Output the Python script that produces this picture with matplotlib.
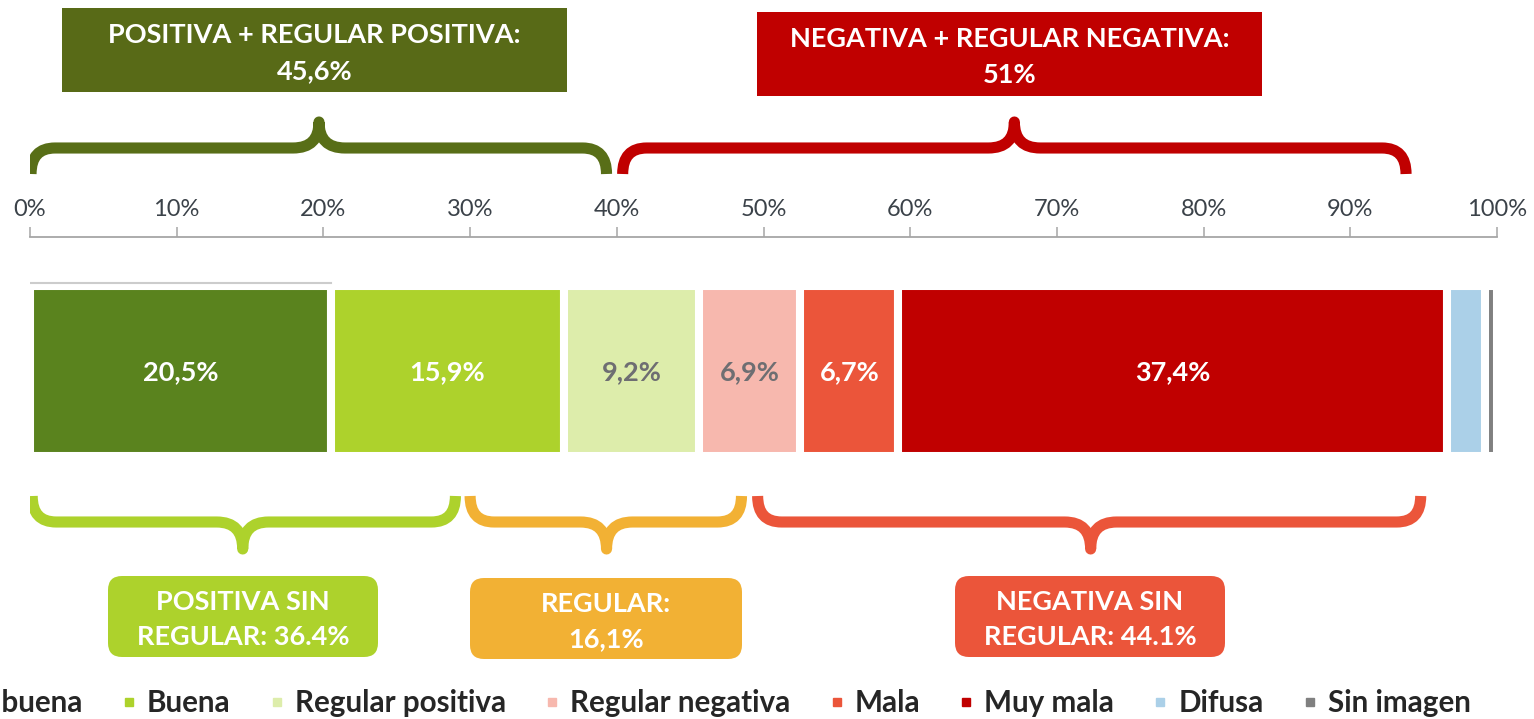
import numpy as np
import matplotlib
matplotlib.use('Agg')
import matplotlib.pyplot as plt
from matplotlib.path import Path
from matplotlib.patches import PathPatch, FancyBboxPatch, Rectangle
from matplotlib.lines import Line2D

plt.rcParams['font.family'] = ['Lato', 'DejaVu Sans']

# %% Daten

categories = ['Muy buena', 'Buena', 'Regular positiva', 'Regular negativa',
              'Mala', 'Muy mala', 'Difusa', 'Sin imagen']
values = [20.5, 15.9, 9.2, 6.9, 6.7, 37.4, 2.6, 0.8]
value_labels = ['20,5%', '15,9%', '9,2%', '6,9%', '6,7%', '37,4%', '', '']
colors = ['#5A831E', '#ADD22C', '#DDEDAB', '#F7B8AE',
          '#EB553A', '#C00000', '#ABD0E8', '#808080']
label_colors = ['white', 'white', '#6E6E72', '#6E6E72', 'white', 'white', 'white', 'white']

tick_values = np.arange(0, 101, 10)
tick_labels = [f'{v}%' for v in tick_values]

top_groups = ['POSITIVA + REGULAR POSITIVA:\n45,6%', 'NEGATIVA + REGULAR NEGATIVA:\n51%']
bottom_groups = ['POSITIVA SIN\nREGULAR: 36.4%', 'REGULAR:\n16,1%', 'NEGATIVA SIN\nREGULAR: 44.1%']

# %% Figur: x in Prozent, y in Pixeln (von oben)

W, H = 1534, 719
fig = plt.figure(figsize=(W / 100, H / 100), dpi=100)
ax = fig.add_axes([30 / W, 0, 1467 / W, 1])
ax.set_xlim(0, 100)
ax.set_ylim(H, 0)
ax.patch.set_visible(False)
px = 1467 / 100  # Pixel pro Prozent

for s in ['left', 'right', 'bottom']:
    ax.spines[s].set_visible(False)
ax.spines['top'].set_position(('data', 237))
ax.spines['top'].set_color('#A6A6A6')
ax.spines['top'].set_linewidth(1.3)
ax.xaxis.set_ticks_position('top')
ax.set_xticks(tick_values, tick_labels)
ax.tick_params(axis='x', direction='out', length=7, width=1.1, color='#A6A6A6',
               labelsize=17, labelcolor='#3B4249', pad=5)
ax.set_yticks([])

# %% Balken

left = 0
for cat, v, c, lab, lc in zip(categories, values, colors, value_labels, label_colors):
    ax.barh(371, v, left=left, height=170, color=c, edgecolor='white', linewidth=5.8, label=cat)
    if lab:
        ax.text(left + v / 2, 372, lab, ha='center', va='center', fontsize=19.5,
                fontweight='bold', color=lc)
    left += v

ax.plot([0, values[0]], [283, 283], color='#CCCCCC', lw=1.5, zorder=4)

# %% Klammern

def brace(x0, x1, xt, y_end, y_line, y_tip, color, lw=8):
    rx = 24 / px
    cx = 26 / px
    verts = [(x0, y_end), (x0, y_line), (x0 + rx, y_line),
             (xt - cx, y_line), (xt, y_line), (xt, y_tip),
             (xt, y_line), (xt + cx, y_line),
             (x1 - rx, y_line), (x1, y_line), (x1, y_end)]
    codes = [Path.MOVETO, Path.CURVE3, Path.CURVE3, Path.LINETO, Path.CURVE3, Path.CURVE3,
             Path.CURVE3, Path.CURVE3, Path.LINETO, Path.CURVE3, Path.CURVE3]
    ax.add_patch(PathPatch(Path(verts, codes), fill=False, edgecolor=color, lw=lw,
                           capstyle='butt', joinstyle='round'))

brace(0.07, 39.3, 19.7, 174, 148, 122, '#586E17')
brace(40.4, 93.8, 67.1, 174, 148, 122, '#C00000')
brace(0.15, 29.0, 14.5, 496, 522, 549, '#ADD22C')
brace(30.0, 48.5, 39.3, 496, 522, 549, '#F2B134')
brace(49.6, 94.8, 72.3, 496, 522, 549, '#EB553A')

# %% Kaesten

def box(x0_px, x1_px, y0, y1, color, text, rounded, fs, ls):
    x0 = (x0_px - 30) / px
    x1 = (x1_px - 30) / px
    if rounded:
        p = FancyBboxPatch((x0, y0), x1 - x0, y1 - y0,
                           boxstyle=f'round,pad=0,rounding_size={14 / px}',
                           mutation_aspect=px, facecolor=color, edgecolor='none')
    else:
        p = Rectangle((x0, y0), x1 - x0, y1 - y0, facecolor=color, edgecolor='none')
    ax.add_patch(p)
    ax.text((x0 + x1) / 2, (y0 + y1) / 2 + 3, text, ha='center', va='center', color='white',
            fontsize=fs, fontweight='bold', linespacing=ls)

box(62, 567, 8, 92, '#586A17', top_groups[0], False, 19.5, 1.62)
box(757, 1262, 12, 96, '#C00000', top_groups[1], False, 19.5, 1.62)
box(108, 378, 576, 657, '#ADD22C', bottom_groups[0], True, 19.5, 1.55)
box(470, 742, 578, 659, '#F2B134', bottom_groups[1], True, 19.5, 1.55)
box(955, 1225, 576, 657, '#EB553A', bottom_groups[2], True, 19.5, 1.55)

# %% Legende

handles = [Line2D([], [], marker='s', linestyle='none', markersize=6, color=c) for c in colors]
fig.legend(handles, categories, loc='center left', bbox_to_anchor=(-91 / W, 1 - 703 / H),
           ncol=8, frameon=False, borderpad=0, borderaxespad=0, handlelength=0.5,
           handletextpad=0.36, columnspacing=1.31,
           prop={'size': 21.3, 'weight': 'bold'}, labelcolor='#262626')

fig.savefig('out.png', dpi=100)
